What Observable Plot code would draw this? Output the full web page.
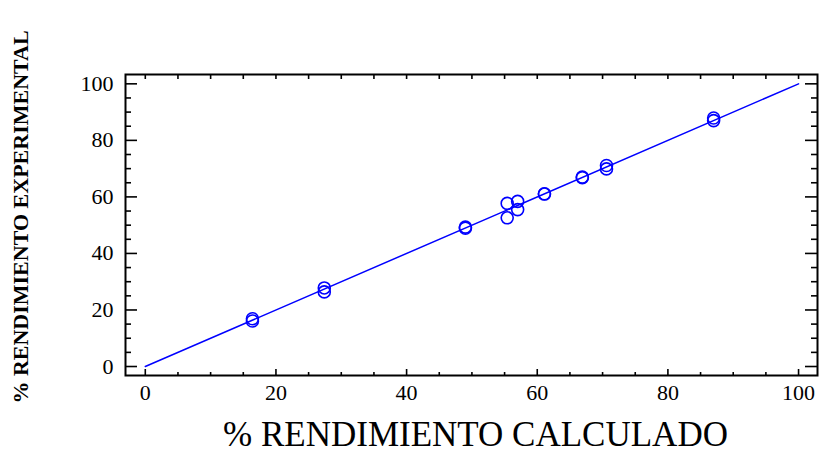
<!DOCTYPE html>
<html>
<head>
<meta charset="utf-8">
<script src="https://cdn.jsdelivr.net/npm/d3@7"></script>
<script src="https://cdn.jsdelivr.net/npm/@observablehq/plot@0.6"></script>
<style>
  html, body { margin: 0; padding: 0; background: #fff; }
  #chart svg { font-family: "Liberation Serif", "Times New Roman", serif; }
</style>
</head>
<body>
<div id="chart"></div>
<script>
// Data
const calculado    = [16.4, 16.4, 27.4, 27.4, 49.0, 49.0, 55.4, 55.4, 57.0, 57.0, 61.1, 61.1, 66.9, 66.9, 70.6, 70.6, 87.0, 87.0];
const experimental = [16.9, 16.1, 27.8, 26.4, 49.3, 48.9, 57.7, 52.6, 58.4, 55.5, 61.1, 61.0, 67.0, 66.8, 71.1, 69.9, 87.9, 87.0];
const fitLineX = [0, 100];
const fitLineY = [0, 100];
const majorTicks = [0, 20, 40, 60, 80, 100];
const minorTicks = d3.range(0, 101, 5).filter(v => v % 20 !== 0);
const xTitle = "% RENDIMIENTO CALCULADO";
const yTitle = "% RENDIMIENTO EXPERIMENTAL";

const points = calculado.map((x, i) => ({x, y: experimental[i]}));
const fitLine = fitLineX.map((x, i) => ({x, y: fitLineY[i]}));

const W = 819, H = 455;
const mL = 125, mR = 2, mT = 74, mB = 80;
const fw = W - mL - mR, fh = H - mT - mB;
const blue = "#0000ff";

const chart = Plot.plot({
  width: W,
  height: H,
  marginLeft: mL,
  marginRight: mR,
  marginTop: mT,
  marginBottom: mB,
  x: {domain: [-3.03, 102.9], axis: null},
  y: {domain: [-3.18, 103.3], axis: null},
  style: {fontFamily: "Liberation Serif", background: "#fff", color: "#000", overflow: "visible"},
  marks: [
    // tick labels
    Plot.axisX(majorTicks, {anchor: "bottom", tickSize: 0, tickPadding: 9, fontSize: 22, label: null}),
    Plot.axisY(majorTicks, {anchor: "left", tickSize: 0, tickPadding: 12, fontSize: 22, label: null}),
    // inward ticks: bottom
    Plot.tickX(majorTicks, {x: d => d, insetTop: fh - 6, stroke: "#000", strokeWidth: 1.6}),
    Plot.tickX(minorTicks, {x: d => d, insetTop: fh - 3, stroke: "#000", strokeWidth: 1.6}),
    // top
    Plot.tickX(majorTicks, {x: d => d, insetBottom: fh - 5, stroke: "#000", strokeWidth: 1.6}),
    Plot.tickX(minorTicks, {x: d => d, insetBottom: fh - 5, stroke: "#000", strokeWidth: 1.6}),
    // left
    Plot.tickY(majorTicks, {y: d => d, insetRight: fw - 12, stroke: "#000", strokeWidth: 1.6}),
    Plot.tickY(minorTicks, {y: d => d, insetRight: fw - 6, stroke: "#000", strokeWidth: 1.6}),
    // right
    Plot.tickY(majorTicks, {y: d => d, insetLeft: fw - 12, stroke: "#000", strokeWidth: 1.6}),
    Plot.tickY(minorTicks, {y: d => d, insetLeft: fw - 6, stroke: "#000", strokeWidth: 1.6}),
    Plot.frame({stroke: "#000", strokeWidth: 2}),
    // fitted line
    Plot.line(fitLine, {x: "x", y: "y", stroke: blue, strokeWidth: 1.5}),
    // observations
    Plot.dot(points, {x: "x", y: "y", r: 6, stroke: blue, strokeWidth: 1.6, fill: "none"}),
    // titles
    Plot.text([xTitle], {text: d => d, frameAnchor: "bottom", dx: 4, dy: 70, fontSize: 35, fill: "#000"}),
    Plot.text([yTitle], {text: d => d, frameAnchor: "left", textAnchor: "middle", rotate: -90, dx: -105, dy: -8, fontSize: 22, fontWeight: "bold", fill: "#000"})
  ]
});
document.getElementById("chart").appendChild(chart);
</script>
</body>
</html>
